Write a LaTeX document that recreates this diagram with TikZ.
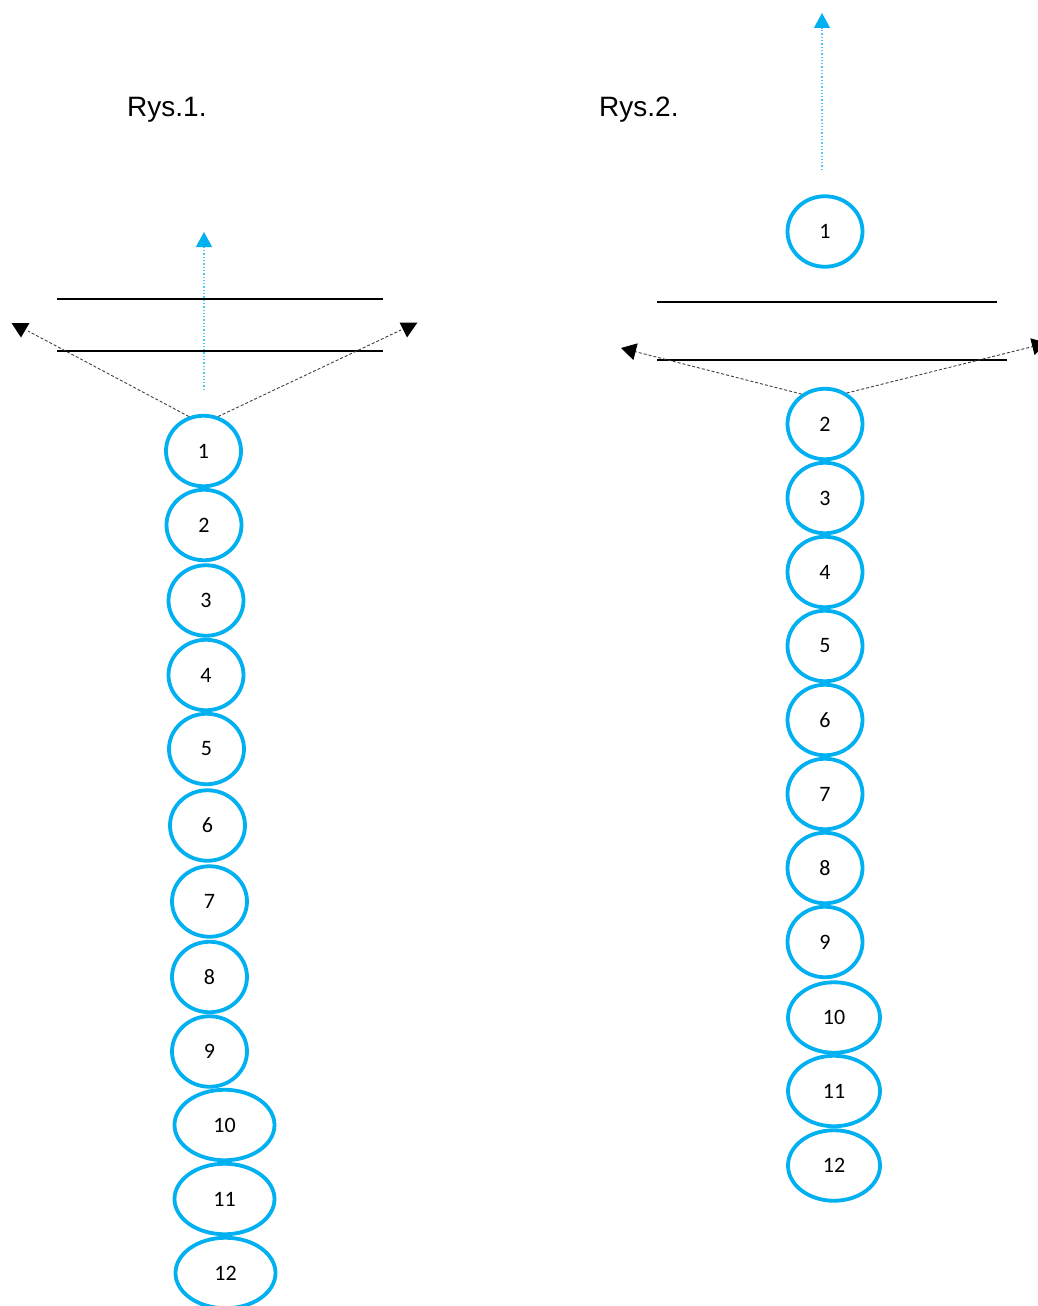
\documentclass[tikz,border=0pt]{standalone}
\usepackage{fontspec}
\setmainfont{Liberation Sans}
\newfontfamily\numfont{Carlito}
\usetikzlibrary{shapes.geometric,arrows.meta}
\definecolor{ballblue}{HTML}{00B0F0}
\begin{document}
\begin{tikzpicture}[x=1pt,y=-1pt,
  ball/.style={ellipse,draw=ballblue,line width=3.8pt,minimum width=75pt,minimum height=70.5pt,inner sep=0pt,
    font=\numfont\fontsize{22}{22}\selectfont},
  bigball/.style={ball,minimum width=100pt},
  midball/.style={ball,minimum width=92pt},
  plate/.style={line width=2pt,black},
  ray/.style={densely dashed,line width=0.9pt,black!75},
  raytip/.style={ray,-{Triangle[width=17pt,length=15pt,color=black,fill=black]}},
  head/.style={fill=black},
  lift/.style={dotted,line width=1.3pt,ballblue!70,-{Triangle[width=16pt,length=15pt,color=ballblue,fill=ballblue]}},
  caption/.style={anchor=base west,inner sep=0pt,font=\fontsize{28}{28}\selectfont}]
\useasboundingbox (0,0) rectangle (1038,1306);
\fill[white] (0,0) rectangle (1038,1306);

% captions
\node[caption] (cap1) at (127,116) {Rys.1.};
\node[caption] (cap2) at (599,116) {Rys.2.};

% ---------- Rys.1 ----------
\node[ball] (L1) at (203.5,451) {1};
\node[ball] (L2) at (204,525) {2};
\node[ball] (L3) at (206,600.5) {3};
\node[ball] (L4) at (206,675) {4};
\node[ball] (L5) at (206.5,749) {5};
\node[ball] (L6) at (207.5,825.5) {6};
\node[ball] (L7) at (209.5,901.5) {7};
\node[ball] (L8) at (209.5,977) {8};
\node[ball] (L9) at (209.5,1051.5) {9};
\node[bigball] (L10) at (224.5,1125) {10};
\node[bigball] (L11) at (224.5,1199) {11};
\node[bigball] (L12) at (225.5,1273) {12};

\coordinate (La) at (57,299);
\coordinate (Lb) at (383,299);
\coordinate (Lc) at (57,351);
\coordinate (Ld) at (383,351);
\draw[plate] (La) -- (Lb);
\draw[plate] (Lc) -- (Ld);

\coordinate (Lup0) at (204,390);
\coordinate (Lup1) at (204,232);
\draw[lift] (Lup0) -- (Lup1);

\coordinate (Lleft) at (28,331);
\coordinate (Lright) at (401,330);
\draw[ray] (L1.113) -- (Lleft);
\draw[ray] (L1.67) -- (Lright);
\fill[head] (11.5,323) -- (29.5,323) -- (21,337.5) -- cycle;
\fill[head] (399.5,322.5) -- (417.5,322.5) -- (407,337.5) -- cycle;

% ---------- Rys.2 ----------
\node[ball] (R1) at (825,231.5) {1};
\node[ball] (R2) at (825,424) {2};
\node[ball] (R3) at (825,498) {3};
\node[ball] (R4) at (825,572) {4};
\node[ball] (R5) at (825,646) {5};
\node[ball] (R6) at (825,720) {6};
\node[ball] (R7) at (825,794) {7};
\node[ball] (R8) at (825,868) {8};
\node[ball] (R9) at (825,942) {9};
\node[midball] (R10) at (834,1017.5) {10};
\node[midball] (R11) at (834,1091) {11};
\node[midball] (R12) at (834,1165.5) {12};

\coordinate (Ra) at (657,302);
\coordinate (Rb) at (997,302);
\coordinate (Rc) at (657,360);
\coordinate (Rd) at (1007,360);
\draw[plate] (Ra) -- (Rb);
\draw[plate] (Rc) -- (Rd);

\coordinate (Rup0) at (822,170);
\coordinate (Rup1) at (822,13);
\draw[lift] (Rup0) -- (Rup1);

\coordinate (Rleft) at (621,348);
\coordinate (Rright) at (1047,343);
\draw[raytip] (R2.128) -- (Rleft);
\draw[raytip] (R2.55) -- (Rright);
\end{tikzpicture}
\end{document}
